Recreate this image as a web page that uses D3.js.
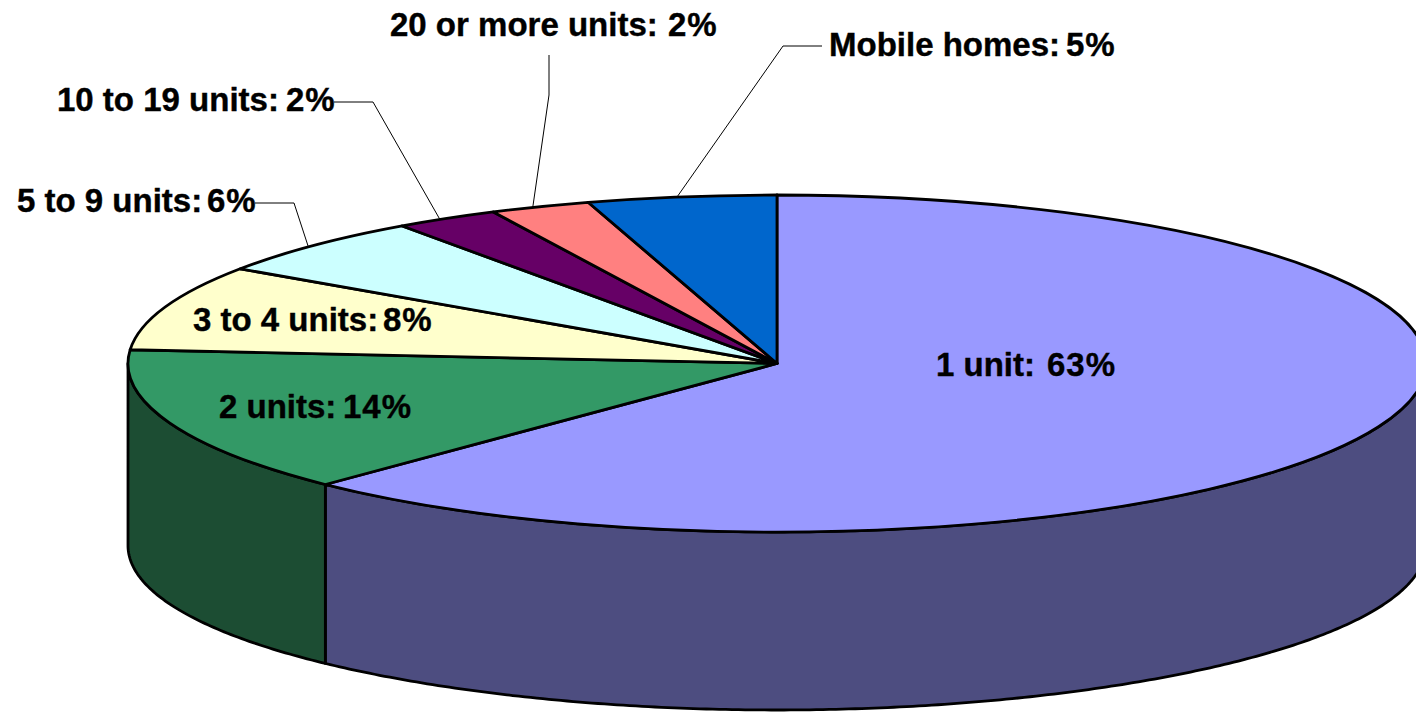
<!DOCTYPE html>
<html>
<head>
<meta charset="utf-8">
<script src="https://cdn.jsdelivr.net/npm/d3@7"></script>
<style>
  html, body { margin: 0; padding: 0; background: #fff; overflow: hidden; }
  text { font-family: "Liberation Sans", Arial, sans-serif; font-weight: bold; font-size: 33px; fill: #000; stroke: #000; stroke-width: 0.4px; }
  text.value { letter-spacing: 1px; }
</style>
</head>
<body>
<svg id="canvas"></svg>
<script>
// slices go clockwise from 12 o'clock
let categories = ["1 unit", "2 units", "3 to 4 units", "5 to 9 units", "10 to 19 units", "20 or more units", "Mobile homes"];
let shares = [62.25, 14.05, 8.2, 5.7, 2.6, 2.5, 4.7];
let shownLabels = ["63%", "14%", "8%", "6%", "2%", "2%", "5%"];
let topColors = ["#9999ff", "#339966", "#ffffcc", "#ccffff", "#660066", "#ff8080", "#0066cc"];
let wallColors = ["#4d4d80", "#1c4d33", "#808066", "#668080", "#330033", "#804040", "#003366"];

let width = 1416, height = 713;
let cx = 777, cy = 363.5, rx = 649, ry = 168.5, depth = 178;

// where each label sits: [name x, value x, baseline]
let labelSpots = [
  [936, 1047, 376],
  [219, 343, 418],
  [193, 383, 331],
  [17, 207, 212],
  [57, 286, 111],
  [390, 668, 36],
  [829, 1066, 56]
];
// elbow of the leader lines, only outside labels have one
let leaderStarts = [null, null, null, [255, 203], [334, 102], [549, 55], [822, 46]];
let leaderElbows = [null, null, null, [294, 203], [373, 102], [549, 95], [783, 46]];
let leaderNudge = [0, 0, 0, -0.012, -0.012, -0.012, -0.007];

let canvas = d3.select("#canvas").attr("width", width).attr("height", height);

let pie = d3.pie().sort(null).value((d) => d.share);
let rows = categories.map((name, i) => {
  return { name: name, share: shares[i], shown: shownLabels[i], top: topColors[i], wall: wallColors[i], i: i };
});
let slices = pie(rows);

let px = (a) => cx + rx * Math.sin(a);
let py = (a) => cy - ry * Math.cos(a);

// front walls, only the part of a slice between 3 and 9 o'clock shows
// the lower rim bulges a little toward the sides, as it does in the picture
let wallPath = (s) => {
  let a0 = Math.max(s.startAngle, Math.PI / 2);
  let a1 = Math.min(s.endAngle, Math.PI * 1.5);
  if (a1 <= a0) return null;
  let angles = d3.range(a0, a1, 0.01).concat([a1]);
  let upper = angles.map((a) => [px(a), py(a)]);
  let lower = angles.map((a) => [px(a), py(a) + depth + 4 * Math.pow(Math.sin(a), 4)]).reverse();
  return d3.line()(upper.concat(lower)) + "Z";
};

canvas
  .selectAll("path.wall")
  .data(slices.filter((s) => wallPath(s)))
  .enter()
  .append("path")
  .attr("class", "wall")
  .attr("d", wallPath)
  .attr("fill", (d) => d.data.wall)
  .attr("stroke", "#000")
  .attr("stroke-width", 2.8)
  .attr("stroke-linejoin", "round");

let arc = d3.arc().innerRadius(0).outerRadius(rx);

canvas
  .selectAll("path.top")
  .data(slices)
  .enter()
  .append("path")
  .attr("class", "top")
  .attr("d", arc)
  .attr("transform", "translate(" + cx + "," + cy + ") scale(1," + ry / rx + ")")
  .attr("vector-effect", "non-scaling-stroke")
  .attr("fill", (d) => d.data.top)
  .attr("stroke", "#000")
  .attr("stroke-width", 2.8)
  .attr("stroke-linejoin", "round");

// leader lines end on the rim of their slice
canvas
  .selectAll("path.leader")
  .data(slices.filter((s) => leaderStarts[s.data.i]))
  .enter()
  .append("path")
  .attr("class", "leader")
  .attr("d", (d) => {
    let mid = (d.startAngle + d.endAngle) / 2 + leaderNudge[d.data.i];
    return d3.line()([leaderStarts[d.data.i], leaderElbows[d.data.i], [px(mid), py(mid)]]);
  })
  .attr("fill", "none")
  .attr("stroke", "#000")
  .attr("stroke-width", 1);

let labels = canvas.selectAll("g.label").data(rows).enter().append("g").attr("class", "label");

labels
  .append("text")
  .attr("x", (d) => labelSpots[d.i][0])
  .attr("y", (d) => labelSpots[d.i][2])
  .text((d) => d.name + ":");

labels
  .append("text")
  .attr("class", "value")
  .attr("x", (d) => labelSpots[d.i][1])
  .attr("y", (d) => labelSpots[d.i][2])
  .text((d) => d.shown);
</script>
</body>
</html>
